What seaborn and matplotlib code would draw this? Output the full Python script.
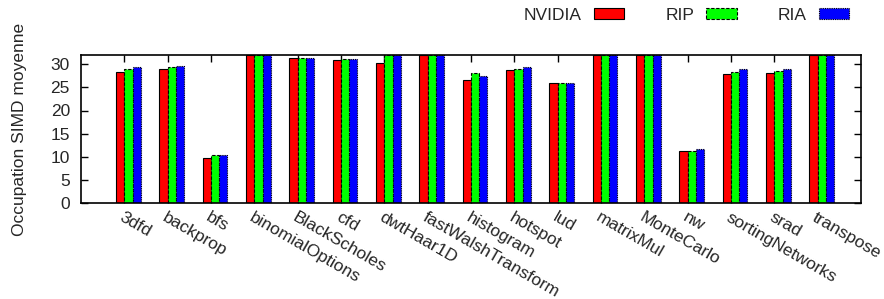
import numpy as np
import pandas as pd
import matplotlib
matplotlib.use("Agg")
import matplotlib.pyplot as plt
import seaborn as sns

benchmarks = ["3dfd", "backprop", "bfs", "binomialOptions", "BlackScholes", "cfd",
              "dwtHaar1D", "fastWalshTransform", "histogram", "hotspot", "lud",
              "matrixMul", "MonteCarlo", "nw", "sortingNetworks", "srad", "transpose"]
systems = ["NVIDIA", "RIP", "RIA"]

nvidia = [28.4, 29.0, 9.8, 32, 31.4, 30.85, 30.2, 32, 26.6, 28.8, 25.9, 32, 32, 11.2, 28.0, 28.2, 32]
rip = [29.0, 29.3, 10.4, 32, 31.3, 31.05, 32, 32, 28.2, 29.0, 25.95, 32, 32, 11.25, 28.4, 28.6, 32]
ria = [29.4, 29.6, 10.45, 32, 31.3, 31.05, 32, 32, 27.5, 29.4, 25.9, 32, 32, 11.6, 28.9, 28.9, 32]

df = pd.DataFrame({
    "bench": benchmarks * 3,
    "system": [s for s in systems for _ in benchmarks],
    "value": nvidia + rip + ria,
})

sns.set_theme(style="white")
plt.rcParams["font.family"] = ["Liberation Sans", "DejaVu Sans"]

fig = plt.figure(figsize=(8.84, 2.99), dpi=100)
ax = fig.add_axes([81 / 884, 1 - 203 / 299, 780 / 884, 148 / 299])

sns.barplot(data=df, x="bench", y="value", hue="system", order=benchmarks,
            hue_order=systems, palette=["#ff0000", "#00ff00", "#0000ff"],
            width=0.57, saturation=1, edgecolor="black", linewidth=0.8, ax=ax)

# gnuplot-like borders: green dashed, blue dotted
for p in ax.containers[1].patches:
    p.set_linestyle((0, (3, 1.5)))
for p in ax.containers[2].patches:
    p.set_linestyle((0, (1, 1)))

ax.set_ylim(0, 32)
ax.set_yticks(range(0, 31, 5))
ax.set_xlim(-1.095, 16.905)
ax.set_xticks(np.arange(len(benchmarks)) - 0.095)
ax.set_xticklabels(benchmarks, rotation=-30, ha="left", va="top",
                   rotation_mode="anchor", fontsize=12.5)
ax.tick_params(axis="x", direction="in", top=True, bottom=True, length=5,
               width=1, pad=5, color="black")
ax.tick_params(axis="y", direction="in", left=True, right=True, length=5,
               width=1, pad=8, labelsize=12.5, color="black")
for s in ax.spines.values():
    s.set_color("black")
    s.set_linewidth(1.2)

ax.set_xlabel("")
ax.set_ylabel("")
fig.text(20 / 884, 1 - 129 / 299, "Occupation SIMD moyenne", rotation=90,
         ha="center", va="center", fontsize=12.5)

ax.legend_.remove()
fig.legend(ax.containers, systems, loc="center right",
           bbox_to_anchor=(849 / 884, 1 - 15 / 299), ncol=3, markerfirst=False,
           frameon=False, borderpad=0, borderaxespad=0, handlelength=1.75,
           handleheight=0.55, handletextpad=0.7, columnspacing=2.35, fontsize=12.5)

fig.savefig("out.png", dpi=100)
